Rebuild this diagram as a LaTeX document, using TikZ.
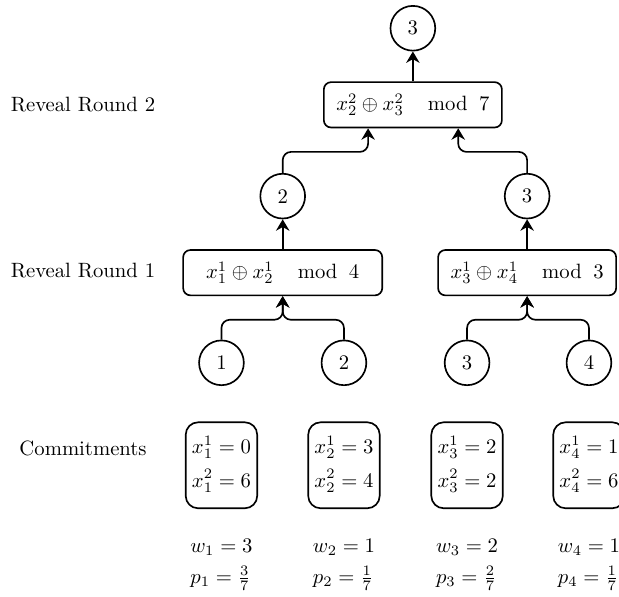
\documentclass[tikz,border=0pt]{standalone}
\usepackage{amsmath}
\usetikzlibrary{arrows.meta}
\begin{document}
\begin{tikzpicture}[
roundnode/.style={circle, draw, thick, minimum size=7.6mm, inner sep=0pt},
modnode/.style={rectangle, draw, thick, rounded corners=3.5pt, minimum height=7.7mm, inner xsep=6pt},
commitnode/.style={rectangle, draw, thick, rounded corners=6pt, minimum height=14.6mm, inner sep=3pt},
weightnode/.style={align=left, inner sep=0pt},
rowlabel/.style={inner sep=0pt},
arr/.style={-{Stealth[length=5.5pt,width=6.5pt]}, thick, rounded corners=4pt},
]
\useasboundingbox (0,0) rectangle (10.51,10.12);
%Nodes
\node[rowlabel]   (round2)  at (1.41,8.35) {Reveal Round 2};
\node[rowlabel]   (round1)  at (1.41,5.52) {Reveal Round 1};
\node[rowlabel]   (commits) at (1.41,2.51) {Commitments};

\node[roundnode]  (top)     at (7.01,9.64) {3};
\node[modnode]    (mod7)    at (7.01,8.34) {$x_2^2 \oplus x_3^2 \quad\, \mathrm{mod} \;\; 7$};
\node[roundnode]  (midl)    at (4.80,6.79) {2};
\node[roundnode]  (midr)    at (8.95,6.79) {3};
\node[modnode, minimum width=3.38cm] (mod4) at (4.80,5.49) {$x_1^1 \oplus x_2^1 \quad\, \mathrm{mod} \;\; 4$};
\node[modnode]    (mod3)    at (8.95,5.49) {$x_3^1 \oplus x_4^1 \quad\, \mathrm{mod} \;\; 3$};

\node[roundnode]  (party1)  at (3.76,3.96) {1};
\node[roundnode]  (party2)  at (5.84,3.96) {2};
\node[roundnode]  (party3)  at (7.93,3.96) {3};
\node[roundnode]  (party4)  at (10.00,3.96) {4};

\node[commitnode] (com1) at (3.76,2.22) {$\begin{aligned} x_1^1 &= 0\\ x_1^2 &= 6\end{aligned}$};
\node[commitnode] (com2) at (5.84,2.22) {$\begin{aligned} x_2^1 &= 3\\ x_2^2 &= 4\end{aligned}$};
\node[commitnode] (com3) at (7.93,2.22) {$\begin{aligned} x_3^1 &= 2\\ x_3^2 &= 2\end{aligned}$};
\node[commitnode] (com4) at (10.00,2.22) {$\begin{aligned} x_4^1 &= 1\\ x_4^2 &= 6\end{aligned}$};

\node[weightnode] (w1) at (3.76,0.53) {$w_1 = 3$\\[3pt] $p_1 = \frac{3}{7}$};
\node[weightnode] (w2) at (5.84,0.53) {$w_2 = 1$\\[3pt] $p_2 = \frac{1}{7}$};
\node[weightnode] (w3) at (7.93,0.53) {$w_3 = 2$\\[3pt] $p_3 = \frac{2}{7}$};
\node[weightnode] (w4) at (10.00,0.53) {$w_4 = 1$\\[3pt] $p_4 = \frac{1}{7}$};

%Lines
\draw[arr] (party1.north) |- ([yshift=-0.4cm]mod4.south) -- (mod4.south);
\draw[arr] (party2.north) |- ([yshift=-0.4cm]mod4.south) -- (mod4.south);
\draw[arr] (party3.north) |- ([yshift=-0.4cm]mod3.south) -- (mod3.south);
\draw[arr] (party4.north) |- ([yshift=-0.4cm]mod3.south) -- (mod3.south);
\draw[arr] (mod4.north) -- (midl.south);
\draw[arr] (mod3.north) -- (midr.south);
\draw[arr] (midl.north) |- ([xshift=-0.76cm,yshift=-0.4cm]mod7.south) -- ([xshift=-0.76cm]mod7.south);
\draw[arr] (midr.north) |- ([xshift=0.77cm,yshift=-0.4cm]mod7.south) -- ([xshift=0.77cm]mod7.south);
\draw[arr] (mod7.north) -- (top.south);
\end{tikzpicture}
\end{document}
